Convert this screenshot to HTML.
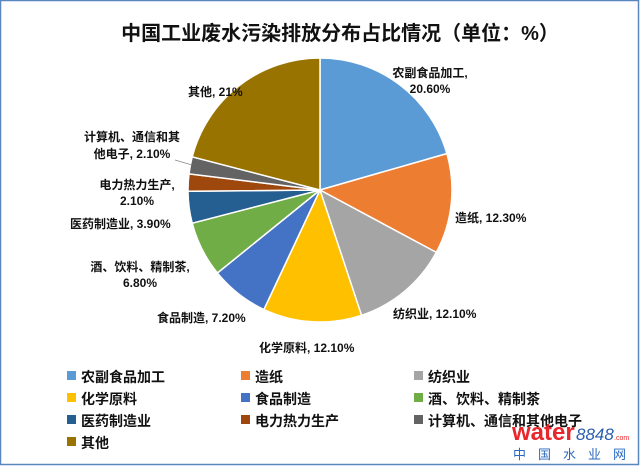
<!DOCTYPE html>
<html><head><meta charset="utf-8"><style>
body{margin:0;width:640px;height:467px;background:#fff;overflow:hidden;font-family:"Liberation Sans","Noto Sans CJK SC",sans-serif}
svg text{font-family:"Liberation Sans","Noto Sans CJK SC",sans-serif}
</style></head><body>
<svg width="640" height="467" viewBox="0 0 640 467">
<rect x="0.5" y="0.5" width="638" height="464" fill="#fff" stroke="#5a86c0" stroke-width="1.5"/>
<text x="340" y="40" font-size="20" font-weight="bold" text-anchor="middle" fill="#111">中国工业废水污染排放分布占比情况（单位：%）</text>
<g stroke="#fff" stroke-width="1.5">
<path d="M320,190 L320,58 A132,132 0 0 1 446.9,153.6 Z" fill="#5B9BD5"/>
<path d="M320,190 L446.9,153.6 A132,132 0 0 1 436.3,252.4 Z" fill="#ED7D31"/>
<path d="M320,190 L436.3,252.4 A132,132 0 0 1 361.5,315.3 Z" fill="#A5A5A5"/>
<path d="M320,190 L361.5,315.3 A132,132 0 0 1 263.9,309.5 Z" fill="#FFC000"/>
<path d="M320,190 L263.9,309.5 A132,132 0 0 1 217.4,273.0 Z" fill="#4472C4"/>
<path d="M320,190 L217.4,273.0 A132,132 0 0 1 192.2,223.2 Z" fill="#70AD47"/>
<path d="M320,190 L192.2,223.2 A132,132 0 0 1 188.0,191.2 Z" fill="#255E91"/>
<path d="M320,190 L188.0,191.2 A132,132 0 0 1 189.0,173.9 Z" fill="#9E480E"/>
<path d="M320,190 L189.0,173.9 A132,132 0 0 1 192.2,156.8 Z" fill="#636363"/>
<path d="M320,190 L192.2,156.8 A132,132 0 0 1 320,58 Z" fill="#997300"/>
</g>
<g font-size="12" font-weight="bold" fill="#111">
<text x="430" y="77" text-anchor="middle">农副食品加工,</text>
<text x="430" y="93" text-anchor="middle">20.60%</text>
<text x="455" y="222">造纸, 12.30%</text>
<text x="393" y="318">纺织业, 12.10%</text>
<text x="259" y="352">化学原料, 12.10%</text>
<text x="157" y="322">食品制造, 7.20%</text>
<text x="140" y="271" text-anchor="middle">酒、饮料、精制茶,</text>
<text x="140" y="287" text-anchor="middle">6.80%</text>
<text x="70" y="228">医药制造业, 3.90%</text>
<text x="137" y="189" text-anchor="middle">电力热力生产,</text>
<text x="137" y="205" text-anchor="middle">2.10%</text>
<text x="132" y="141" text-anchor="middle">计算机、通信和其</text>
<text x="132" y="158" text-anchor="middle">他电子, 2.10%</text>
<text x="188" y="96">其他, 21%</text>
</g>
<line x1="175" y1="160" x2="192" y2="165" stroke="#888" stroke-width="0.8"/>
<g font-size="14" font-weight="bold" fill="#111">
<rect x="67" y="371" width="9" height="9" fill="#5B9BD5"/><text x="81" y="382">农副食品加工</text>
<rect x="241" y="371" width="9" height="9" fill="#ED7D31"/><text x="255" y="382">造纸</text>
<rect x="414" y="371" width="9" height="9" fill="#A5A5A5"/><text x="428" y="382">纺织业</text>
<rect x="67" y="393" width="9" height="9" fill="#FFC000"/><text x="81" y="404">化学原料</text>
<rect x="241" y="393" width="9" height="9" fill="#4472C4"/><text x="255" y="404">食品制造</text>
<rect x="414" y="393" width="9" height="9" fill="#70AD47"/><text x="428" y="404">酒、饮料、精制茶</text>
<rect x="67" y="415" width="9" height="9" fill="#255E91"/><text x="81" y="426">医药制造业</text>
<rect x="241" y="415" width="9" height="9" fill="#9E480E"/><text x="255" y="426">电力热力生产</text>
<rect x="414" y="415" width="9" height="9" fill="#636363"/><text x="428" y="426">计算机、通信和其他电子</text>
<rect x="67" y="437" width="9" height="9" fill="#997300"/><text x="81" y="448">其他</text>
</g>
<text x="512" y="440" font-size="24" font-weight="bold" fill="#e8262b">water</text>
<text x="576" y="440" font-size="17" font-style="italic" fill="#2a5db0" font-family="Liberation Serif">8848</text>
<text x="614" y="440" font-size="7" fill="#e8262b">.com</text>
<text x="513" y="459" font-size="13" fill="#2a6ac0" letter-spacing="12">中国水业网</text>
</svg>
</body></html>
